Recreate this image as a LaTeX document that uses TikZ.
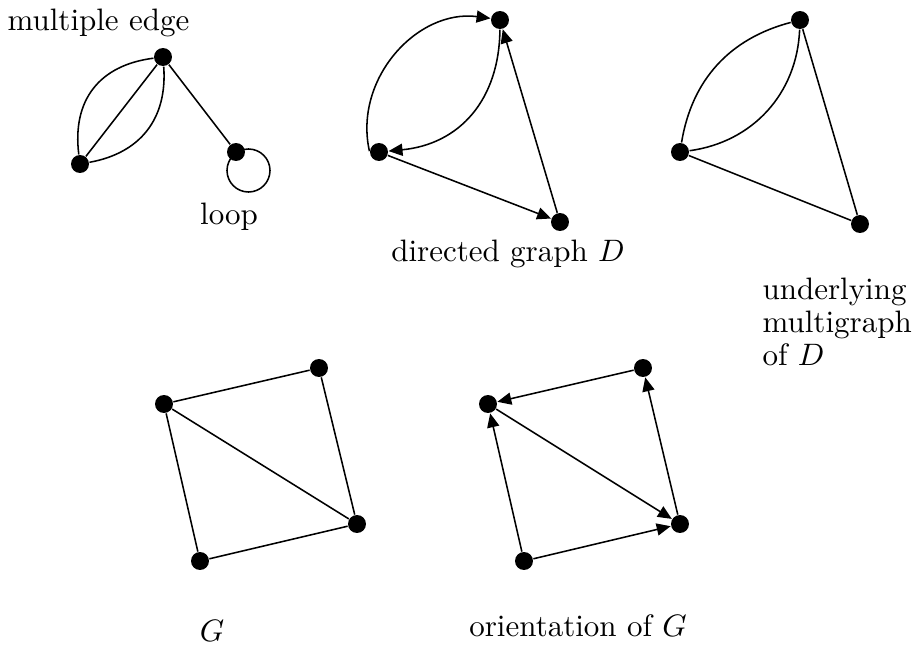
\documentclass[tikz,border=0pt]{standalone}
\usetikzlibrary{arrows.meta}
\begin{document}
\begin{tikzpicture}[x=0.3226pt,y=-0.3226pt,
  vtx/.style={circle,fill=black,inner sep=0pt,minimum size=5.8pt},
  edge/.style={line width=0.5pt},
  arc/.style={edge,-{Triangle[length=4.5pt,width=3.9pt]}},
  lbl/.style={inner sep=0pt,anchor=base},
  lblw/.style={inner sep=0pt,anchor=base west}]
\useasboundingbox (0,0) rectangle (917,645);

% graph 1
\node[vtx] (p1) at (163,57) {};
\node[vtx] (p2) at (80,164) {};
\node[vtx] (p3) at (236,152) {};
\draw[edge] (p1) -- (p2);
\draw[edge] (p2) to[bend left=45,looseness=1.15] (p1);
\draw[edge] (p1) to[bend left=42,looseness=1.1] (p2);
\draw[edge] (p1) -- (p3);
\draw[edge] (p3.center) ++(12.5,18.5) circle[radius=21.5];
\node[lblw] (t1) at (7,31) {multiple edge};
\node[lbl] (t2) at (229,224) {loop};

% graph 2 (directed)
\node[vtx] (d1) at (500,20) {};
\node[vtx] (d2) at (379,152) {};
\node[vtx] (d3) at (560,222) {};
\draw[arc] (d2.175) to[bend left=55,looseness=1.05] (d1);
\draw[arc] (d1) to[bend left=42,looseness=1.1] (d2);
\draw[arc] (d2) -- (d3);
\draw[arc] (d3) -- (d1);
\node[lbl] (t3) at (508,261) {directed graph $D$};

% graph 3 (underlying multigraph)
\node[vtx] (u1) at (800,20) {};
\node[vtx] (u2) at (680,152) {};
\node[vtx] (u3) at (860,224) {};
\draw[edge] (u2) to[bend left=33] (u1);
\draw[edge] (u1) to[bend left=40] (u2);
\draw[edge] (u2) -- (u3);
\draw[edge] (u3) -- (u1);
\node[lblw] (t4) at (762,299) {underlying};
\node[lblw] (t5) at (762,332) {multigraph};
\node[lblw] (t6) at (762,365) {of $D$};

% graph G
\node[vtx] (g1) at (164,404) {};
\node[vtx] (g2) at (319,368) {};
\node[vtx] (g3) at (357,524) {};
\node[vtx] (g4) at (200,561) {};
\draw[edge] (g1) -- (g2);
\draw[edge] (g2) -- (g3);
\draw[edge] (g3) -- (g4);
\draw[edge] (g4) -- (g1);
\draw[edge] (g1) -- (g3);
\node[lbl] (t7) at (212,641) {$G$};

% orientation of G
\node[vtx] (o1) at (488,404) {};
\node[vtx] (o2) at (643,368) {};
\node[vtx] (o3) at (680,524) {};
\node[vtx] (o4) at (524,561) {};
\draw[arc] (o2) -- (o1);
\draw[arc] (o4) -- (o1);
\draw[arc] (o1) -- (o3);
\draw[arc] (o4) -- (o3);
\draw[arc] (o3) -- (o2);
\node[lbl] (t8) at (578,636) {orientation of $G$};
\end{tikzpicture}
\end{document}
